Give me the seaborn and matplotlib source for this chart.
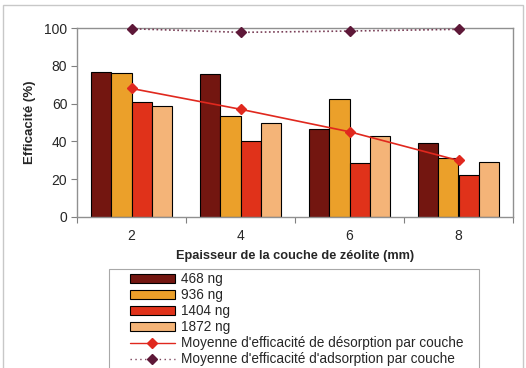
import matplotlib
matplotlib.use("Agg")
import matplotlib.pyplot as plt
import seaborn as sns
import pandas as pd
from matplotlib.lines import Line2D
from matplotlib.patches import Patch, Rectangle

thickness = ["2", "4", "6", "8"]
series = ["468 ng", "936 ng", "1404 ng", "1872 ng"]
v468 = [76.8, 75.4, 46.5, 39.1]
v936 = [76.1, 53.2, 62.3, 31.0]
v1404 = [60.7, 40.1, 28.7, 22.2]
v1872 = [58.5, 50.0, 42.6, 28.9]
desorption = [68.0, 57.0, 45.1, 29.9]
adsorption = [99.6, 97.7, 98.4, 99.3]
colors = ["#731610", "#EBA02A", "#E0321A", "#F4B478"]
line_des_color = "#E0281E"
line_ads_color = "#5E1838"

rows = []
for name, vals in zip(series, [v468, v936, v1404, v1872]):
    for t, v in zip(thickness, vals):
        rows.append({"Epaisseur": t, "Série": name, "Efficacité": v})
df = pd.DataFrame(rows)

sns.set_style("white")
plt.rcParams['font.family'] = ['Liberation Sans', 'DejaVu Sans']

fig = plt.figure(figsize=(5.26, 3.68), dpi=100)
ax = fig.add_axes([77/526, 1-217/368, (513-77)/526, (217-28)/368])

sns.barplot(data=df, x="Epaisseur", y="Efficacité", hue="Série", order=thickness,
            hue_order=series, palette=colors, width=0.74, edgecolor="black",
            linewidth=0.8, ax=ax, legend=False, saturation=1)

xs = list(range(len(thickness)))
ax.plot(xs, desorption, color=line_des_color, lw=1.2, marker="D", ms=5.5,
        markeredgecolor=line_des_color, zorder=5)
ax.plot(xs, adsorption, color="#7A4058", lw=1.2, ls=(0, (1, 1.5)), marker="D", ms=5.5,
        markerfacecolor=line_ads_color, markeredgecolor=line_ads_color, zorder=5, clip_on=False)

ax.set_xlim(-0.5, 3.5)
ax.set_ylim(0, 100)
ax.set_yticks([0, 20, 40, 60, 80, 100])
ax.tick_params(axis="y", which="major", length=4, width=0.8, color="#808080",
               labelsize=10, pad=3, left=True)
ax.set_xticks(xs)
ax.set_xticklabels(thickness)
ax.set_xticks([-0.5, 0.5, 1.5, 2.5, 3.5], minor=True)
ax.tick_params(axis="x", which="major", length=0, labelsize=10, pad=9)
ax.tick_params(axis="x", which="minor", length=4, width=0.8, color="#808080", bottom=True)
for s in ax.spines.values():
    s.set_color("#909090")
    s.set_linewidth(1.0)

ax.set_ylabel("Efficacité (%)", fontsize=9.5, fontweight="bold", labelpad=6)
ax.set_xlabel("Epaisseur de la couche de zéolite (mm)", fontsize=9.2, fontweight="bold",
              labelpad=5)

handles = [Patch(facecolor=c, edgecolor="black", linewidth=0.8) for c in colors]
handles += [
    Line2D([], [], color=line_des_color, lw=1.0, marker="D", ms=5, markeredgecolor=line_des_color),
    Line2D([], [], color="#7A4058", lw=1.0, ls=(0, (1, 2.5)), marker="D", ms=5,
           markerfacecolor=line_ads_color, markeredgecolor=line_ads_color),
]
labels = series + ["Moyenne d'efficacité de désorption par couche",
                   "Moyenne d'efficacité d'adsorption par couche"]
leg = fig.legend(handles, labels, loc="upper left", bbox_to_anchor=(130/526, 1-272/368),
                 fontsize=9.8, frameon=False, handlelength=3.3,
                 handleheight=0.6, labelspacing=0.15, handletextpad=0.45,
                 borderpad=0, borderaxespad=0)

fig.patches.append(Rectangle((109/526, -0.05), (479-109)/526, 1-269/368+0.05,
                             transform=fig.transFigure, fill=False,
                             edgecolor="#A8A8A8", lw=0.8))
fig.patches.append(Rectangle((3/526, -0.05), (523-3)/526, 1-5/368+0.05,
                             transform=fig.transFigure, fill=False,
                             edgecolor="#C8C8C8", lw=1.0))

fig.savefig("out.png", dpi=100)
